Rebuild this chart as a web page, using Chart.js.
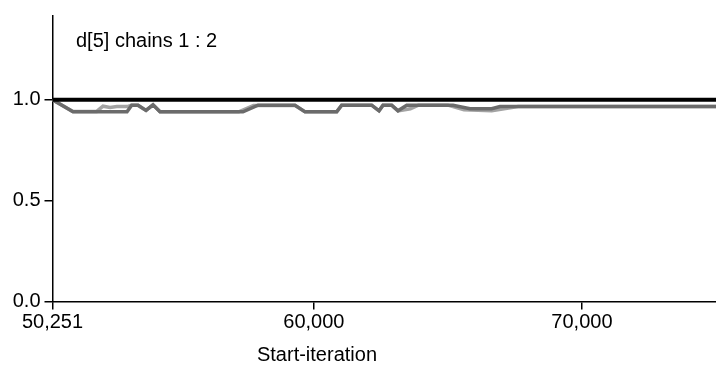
<!DOCTYPE html>
<html>
<head>
<meta charset="utf-8">
<script src="https://cdn.jsdelivr.net/npm/chart.js@4"></script>
<style>
  html, body { margin: 0; padding: 0; background: #fff; }
  #wrap { width: 716px; height: 367px; }
</style>
</head>
<body>
<div id="wrap"><canvas id="bgr"></canvas></div>
<script>
// chain 1 (dark) and chain 2 (light) traces
const darkIter  = [50251, 51016, 53030, 53205, 53440, 53739, 54000, 54261, 57357, 57916, 59296, 59670, 60852, 61038, 62157, 62430, 62579, 62903, 63138, 63463, 65190, 65824, 66633, 66943, 75000];
const darkRatio = [1.0, 0.94, 0.94, 0.973, 0.973, 0.947, 0.975, 0.94, 0.94, 0.973, 0.973, 0.94, 0.94, 0.973, 0.973, 0.945, 0.973, 0.973, 0.945, 0.973, 0.973, 0.955, 0.955, 0.966, 0.966];

const lightIter  = [50251, 51016, 51900, 52135, 52400, 52650, 53030, 53205, 53440, 53739, 54000, 54261, 57200, 57750, 59296, 59670, 60852, 61038, 62157, 62430, 62579, 62903, 63138, 63600, 63900, 65000, 65600, 66633, 67614, 75000];
const lightRatio = [1.0, 0.942, 0.942, 0.968, 0.962, 0.966, 0.966, 0.973, 0.973, 0.947, 0.975, 0.94, 0.94, 0.972, 0.972, 0.94, 0.94, 0.973, 0.973, 0.945, 0.973, 0.973, 0.945, 0.955, 0.973, 0.973, 0.95, 0.945, 0.966, 0.966];

const refIter  = [50251, 75000];
const refValue = [1.0, 1.0];

const xTicks = [50251, 60000, 70000];
const yTicks = [0, 0.5, 1.0];

const titleText = 'd[5] chains 1 : 2';
const xAxisTitle = 'Start-iteration';

const FONT = '"Liberation Sans", Arial, Helvetica, sans-serif';

function toPoints(xs, ys) {
    return xs.map((x, i) => ({ x: x, y: ys[i] }));
}

// draws the panel label and the x axis title
const labelsPlugin = {
    id: 'labels',
    afterDraw(chart) {
        const ctx = chart.ctx;
        ctx.save();
        ctx.fillStyle = '#000';
        ctx.font = '20px ' + FONT;
        ctx.textBaseline = 'alphabetic';
        ctx.textAlign = 'left';
        ctx.fillText(titleText, 76, 47);
        ctx.textAlign = 'center';
        ctx.fillText(xAxisTitle, 317, 361);
        ctx.restore();
    }
};

// first dataset ends up on top in Chart.js, so: reference, dark, light
new Chart(document.getElementById('bgr'), {
    type: 'line',
    data: {
        datasets: [
            {
                data: toPoints(refIter, refValue),
                borderColor: '#000',
                borderWidth: 4,
                pointRadius: 0,
                tension: 0
            },
            {
                data: toPoints(darkIter, darkRatio),
                borderColor: '#6b6b6b',
                borderWidth: 3.5,
                pointRadius: 0,
                tension: 0
            },
            {
                data: toPoints(lightIter, lightRatio),
                borderColor: '#a3a3a3',
                borderWidth: 3.5,
                pointRadius: 0,
                tension: 0
            }
        ]
    },
    options: {
        responsive: true,
        maintainAspectRatio: false,
        animation: false,
        layout: { padding: { top: 13, right: 0, left: 0, bottom: 0 } },
        plugins: {
            legend: { display: false },
            tooltip: { enabled: false }
        },
        scales: {
            x: {
                type: 'linear',
                min: 50251,
                max: 75000,
                afterBuildTicks: (axis) => { axis.ticks = xTicks.map(v => ({ value: v })); },
                afterFit: (axis) => { axis.height = 65.5; },
                ticks: {
                    color: '#000',
                    font: { size: 20, family: FONT },
                    padding: 1,
                    maxRotation: 0,
                    autoSkip: false,
                    callback: (v) => v.toLocaleString('en-US')
                },
                grid: {
                    drawOnChartArea: false,
                    drawTicks: true,
                    tickLength: 8,
                    color: '#000',
                    lineWidth: 1.5
                },
                border: { display: true, color: '#000', width: 1.5 }
            },
            y: {
                min: 0,
                max: 1.415,
                afterBuildTicks: (axis) => { axis.ticks = yTicks.map(v => ({ value: v })); },
                afterFit: (axis) => { axis.width = 52.5; },
                ticks: {
                    color: '#000',
                    font: { size: 20, family: FONT },
                    padding: 4,
                    callback: (v) => v.toFixed(1)
                },
                grid: {
                    drawOnChartArea: false,
                    drawTicks: true,
                    tickLength: 8,
                    color: '#000',
                    lineWidth: 1.5
                },
                border: { display: true, color: '#000', width: 1.5 }
            }
        }
    },
    plugins: [labelsPlugin]
});
</script>
</body>
</html>
